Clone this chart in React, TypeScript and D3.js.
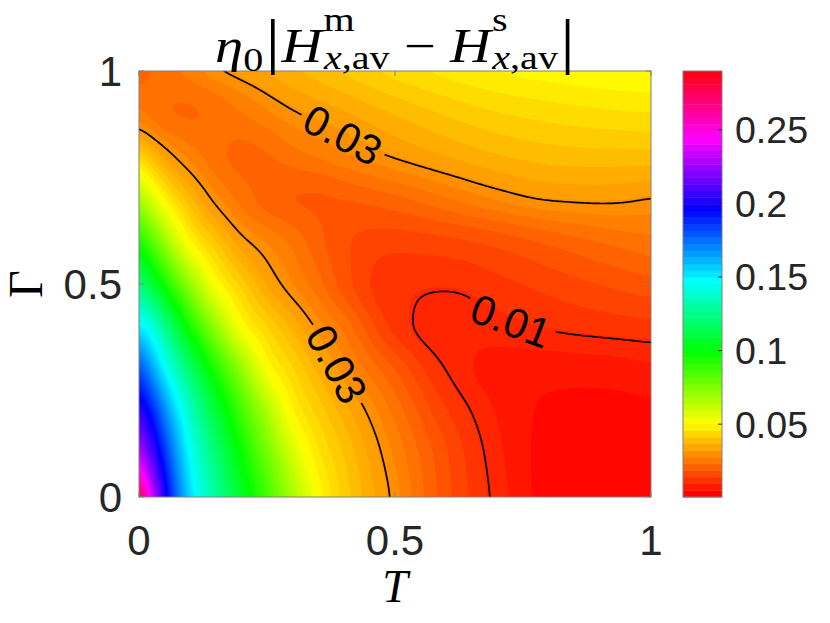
import React, { useMemo } from "react";
import * as d3 from "d3";

// ---------- data ----------
const T_GRID = [0, 0.025, 0.05, 0.1, 0.15, 0.2, 0.25, 0.3, 0.35, 0.4, 0.5, 0.6, 0.7, 0.8, 0.9, 1.0];
const GAMMA_GRID = [0, 0.1, 0.2, 0.3, 0.4, 0.5, 0.6, 0.7, 0.8, 0.9, 1.0];

const Z_G00 = [0.290, 0.236, 0.200, 0.153, 0.128, 0.106, 0.086, 0.067, 0.050, 0.041, 0.0289, 0.017, 0.0090, 0.0032, 0.0017, 0.0018];
const Z_G01 = [0.235, 0.210, 0.186, 0.145, 0.120, 0.097, 0.077, 0.058, 0.0455, 0.039, 0.027, 0.0165, 0.0082, 0.0033, 0.0018, 0.0020];
const Z_G02 = [0.208, 0.190, 0.169, 0.135, 0.109, 0.086, 0.066, 0.048, 0.041, 0.035, 0.0238, 0.0135, 0.0072, 0.0040, 0.0034, 0.0038];
const Z_G03 = [0.183, 0.165, 0.147, 0.118, 0.092, 0.071, 0.050, 0.0425, 0.0355, 0.029, 0.019, 0.0098, 0.0062, 0.0056, 0.0058, 0.0068];
const Z_G04 = [0.152, 0.141, 0.125, 0.094, 0.070, 0.050, 0.042, 0.0355, 0.029, 0.024, 0.0120, 0.0078, 0.0092, 0.0105, 0.0115, 0.0122];
const Z_G05 = [0.124, 0.109, 0.095, 0.070, 0.0500, 0.0410, 0.0330, 0.0276, 0.0230, 0.0175, 0.0108, 0.0106, 0.0123, 0.0143, 0.0162, 0.018];
const Z_G06 = [0.095, 0.0822, 0.0695, 0.048, 0.0395, 0.0312, 0.0274, 0.0240, 0.020, 0.0165, 0.0145, 0.0152, 0.017, 0.0195, 0.022, 0.024];
const Z_G07 = [0.068, 0.0568, 0.0479, 0.0370, 0.0285, 0.0235, 0.0205, 0.0188, 0.0185, 0.019, 0.021, 0.0245, 0.028, 0.0305, 0.031, 0.0298];
const Z_G08 = [0.043, 0.0378, 0.0325, 0.0265, 0.0228, 0.021, 0.0215, 0.0235, 0.025, 0.027, 0.0305, 0.0335, 0.036, 0.0375, 0.038, 0.038];
const Z_G09 = [0.026, 0.0235, 0.022, 0.0215, 0.0225, 0.0245, 0.027, 0.0295, 0.0313, 0.033, 0.0365, 0.0395, 0.0418, 0.0432, 0.0442, 0.0448];
const Z_G10 = [0.021, 0.022, 0.0235, 0.0265, 0.030, 0.032, 0.034, 0.036, 0.038, 0.040, 0.0435, 0.0462, 0.0482, 0.0495, 0.0503, 0.0508];
const Z_ROWS = [Z_G00, Z_G01, Z_G02, Z_G03, Z_G04, Z_G05, Z_G06, Z_G07, Z_G08, Z_G09, Z_G10];

const LABELED_LEVELS = [0.01, 0.03];
const CONTOUR_LABELS = [
  { level: 0.03, text: "0.03", t: 0.396, g: 0.845 },
  { level: 0.03, text: "0.03", t: 0.377, g: 0.305 },
  { level: 0.01, text: "0.01", t: 0.721, g: 0.399 },
];
const AXIS_TICKS = [0, 0.5, 1];
const AXIS_TICK_LABELS = ["0", "0.5", "1"];
const CB_TICKS = [0.05, 0.1, 0.15, 0.2, 0.25];
const CB_TICK_LABELS = ["0.05", "0.1", "0.15", "0.2", "0.25"];
const C_MIN = 0.0005;
const C_MAX = 0.29;
const N_FILL = 100;
const N_CMAP = 64;

// ---------- helpers ----------
// shape-preserving piecewise cubic (PCHIP)
function makePchip(xs: number[], ys: number[]) {
  const n = xs.length;
  const h: number[] = [];
  const d: number[] = [];
  for (let k = 0; k < n - 1; k++) {
    h[k] = xs[k + 1] - xs[k];
    d[k] = (ys[k + 1] - ys[k]) / h[k];
  }
  const m: number[] = new Array(n).fill(0);
  for (let k = 1; k < n - 1; k++) {
    if (d[k - 1] * d[k] <= 0) m[k] = 0;
    else {
      const w1 = 2 * h[k] + h[k - 1];
      const w2 = h[k] + 2 * h[k - 1];
      m[k] = (w1 + w2) / (w1 / d[k - 1] + w2 / d[k]);
    }
  }
  const endSlope = (h0: number, h1: number, d0: number, d1: number) => {
    let s = ((2 * h0 + h1) * d0 - h0 * d1) / (h0 + h1);
    if (Math.sign(s) !== Math.sign(d0)) s = 0;
    else if (Math.sign(d0) !== Math.sign(d1) && Math.abs(s) > Math.abs(3 * d0)) s = 3 * d0;
    return s;
  };
  m[0] = n > 2 ? endSlope(h[0], h[1], d[0], d[1]) : d[0];
  m[n - 1] = n > 2 ? endSlope(h[n - 2], h[n - 3], d[n - 2], d[n - 3]) : d[n - 2];
  return (x: number) => {
    if (x <= xs[0]) return ys[0];
    if (x >= xs[n - 1]) return ys[n - 1];
    let k = 0;
    while (k < n - 2 && x > xs[k + 1]) k++;
    const t = (x - xs[k]) / h[k];
    const t2 = t * t, t3 = t2 * t;
    return (
      (2 * t3 - 3 * t2 + 1) * ys[k] +
      (t3 - 2 * t2 + t) * h[k] * m[k] +
      (-2 * t3 + 3 * t2) * ys[k + 1] +
      (t3 - t2) * h[k] * m[k + 1]
    );
  };
}

const hsvColor = (v: number) => {
  const f = Math.max(0, Math.min(1, (v - C_MIN) / (C_MAX - C_MIN)));
  return d3.hsl(f * 360, 1, 0.5).formatHex();
};

// ---------- layout ----------
const W = 830, H = 623;
const PX0 = 139, PX1 = 651, PY0 = 71, PY1 = 497;
const CBX0 = 683, CBX1 = 722;

export default function App() {
  const xS = d3.scaleLinear().domain([0, 1]).range([PX0, PX1]);
  const yS = d3.scaleLinear().domain([0, 1]).range([PY1, PY0]);
  const cbS = d3.scaleLinear().domain([C_MIN, C_MAX]).range([PY1, PY0]);

  const computed = useMemo(() => {
    const NX = 257, NY = 214, P = 8;
    const fineT = d3.range(NX).map((i) => i / (NX - 1));
    const fineG = d3.range(NY).map((j) => 1 - j / (NY - 1));
    const rowsFine = Z_ROWS.map((row) => {
      const f = makePchip(T_GRID, row);
      return fineT.map((t) => f(t));
    });
    const cols: number[][] = [];
    for (let i = 0; i < NX; i++) {
      const f = makePchip(GAMMA_GRID, rowsFine.map((r) => r[i]));
      cols.push(fineG.map((g) => f(g)));
    }
    const n = NX + 2 * P, m = NY + 2 * P;
    const values = new Float64Array(n * m);
    for (let jj = 0; jj < m; jj++) {
      const j = Math.max(0, Math.min(NY - 1, jj - P));
      for (let ii = 0; ii < n; ii++) {
        const i = Math.max(0, Math.min(NX - 1, ii - P));
        values[ii + jj * n] = cols[i][j];
      }
    }
    // light smoothing of the resampled surface
    d3.blur2({ data: values as any, width: n, height: m }, 3);
    const zmin = d3.min(values) as number;
    const zmax = d3.max(values) as number;
    const levels = d3.range(1, N_FILL).map((k) => zmin + (k * (zmax - zmin)) / N_FILL);
    const gen = d3.contours().size([n, m]);
    const px = (c: number) => xS((c - 0.5 - P) / (NX - 1));
    const py = (c: number) => yS(1 - (c - 0.5 - P) / (NY - 1));
    const path = d3.geoPath(
      d3.geoTransform({
        point: function (x: number, y: number) {
          (this as any).stream.point(px(x), py(y));
        },
      })
    );
    const fills = levels.map((lv) => ({ lv, d: path(gen.contour(values as any, lv) as any) || "" }));
    const lineGeos = LABELED_LEVELS.map((lv) => ({ lv, geo: gen.contour(values as any, lv) }));
    const lines = lineGeos.map((l) => ({ lv: l.lv, d: path(l.geo as any) || "" }));

    const labels = CONTOUR_LABELS.map((lab) => {
      const geo = lineGeos.find((l) => l.lv === lab.level)!.geo as any;
      const tx = xS(lab.t), ty = yS(lab.g);
      let best = { dist: Infinity, x: tx, y: ty, ang: 0 };
      geo.coordinates.forEach((poly: any) =>
        poly.forEach((ring: any) => {
          const pts = ring.map((p: number[]) => [px(p[0]), py(p[1])]);
          const L = pts.length;
          pts.forEach((p: number[], k: number) => {
            if (p[0] < PX0 + 2 || p[0] > PX1 - 2 || p[1] < PY0 + 2 || p[1] > PY1 - 2) return;
            const dd = (p[0] - tx) ** 2 + (p[1] - ty) ** 2;
            if (dd < best.dist) {
              const a = pts[(k - 6 + L) % L], b = pts[(k + 6) % L];
              let ang = (Math.atan2(b[1] - a[1], b[0] - a[0]) * 180) / Math.PI;
              if (ang > 90) ang -= 180;
              if (ang <= -90) ang += 180;
              best = { dist: dd, x: p[0], y: p[1], ang };
            }
          });
        })
      );
      return { ...lab, x: best.x, y: best.y, ang: best.ang };
    });

    return { fills, lines, labels, baseColor: hsvColor(zmin) };
  }, []);

  const cmapBands = d3.range(N_CMAP).map((k) => ({
    lo: C_MIN + (k * (C_MAX - C_MIN)) / N_CMAP,
    hi: C_MIN + ((k + 1) * (C_MAX - C_MIN)) / N_CMAP,
    color: d3.hsl((k / N_CMAP) * 360, 1, 0.5).formatHex(),
  }));

  const sans = "'Liberation Sans', Arial, Helvetica, sans-serif";
  const serif = "'Liberation Serif', 'Times New Roman', serif";
  const tickCol = "#262626";
  const frameCol = "#808080";
  const tickFs = 42;
  const cbFs = 37.5;
  const labelW = 92, labelH = 40;

  return (
    <svg
      width={W}
      height={H}
      viewBox={`0 0 ${W} ${H}`}
      style={{ position: "absolute", left: 0, top: 0, background: "#fff" }}
    >
      <defs>
        <clipPath id="plotClip">
          <rect x={PX0} y={PY0} width={PX1 - PX0} height={PY1 - PY0} />
        </clipPath>
        <mask id="labelMask" maskUnits="userSpaceOnUse" x={0} y={0} width={W} height={H}>
          <rect x={0} y={0} width={W} height={H} fill="#fff" />
          {computed.labels.map((l, i) => (
            <rect
              key={i}
              x={-labelW / 2}
              y={-labelH / 2}
              width={labelW}
              height={labelH}
              fill="#000"
              transform={`translate(${l.x},${l.y}) rotate(${l.ang})`}
            />
          ))}
        </mask>
      </defs>

      {/* filled contours */}
      <g clipPath="url(#plotClip)">
        <rect x={PX0} y={PY0} width={PX1 - PX0} height={PY1 - PY0} fill={computed.baseColor} />
        {computed.fills.map((f, i) => (
          <path key={i} d={f.d} fill={hsvColor(f.lv)} stroke={hsvColor(f.lv)} strokeWidth={0.3} />
        ))}
        <g mask="url(#labelMask)">
          {computed.lines.map((l, i) => (
            <path key={i} d={l.d} fill="none" stroke="#000" strokeWidth={1.7} />
          ))}
        </g>
      </g>

      {/* contour labels */}
      {computed.labels.map((l, i) => (
        <text
          key={i}
          x={0}
          y={0}
          dy="0.36em"
          transform={`translate(${l.x},${l.y}) rotate(${l.ang})`}
          textAnchor="middle"
          fontFamily={sans}
          fontSize={tickFs}
          fill="#000"
        >
          {l.text}
        </text>
      ))}

      {/* axes frame and ticks */}
      <rect x={PX0} y={PY0} width={PX1 - PX0} height={PY1 - PY0} fill="none" stroke={frameCol} strokeWidth={1} />
      {AXIS_TICKS.map((t, i) => (
        <g key={i} stroke={frameCol} strokeWidth={1}>
          <line x1={xS(t)} x2={xS(t)} y1={PY1} y2={PY1 - 5} />
          <line x1={xS(t)} x2={xS(t)} y1={PY0} y2={PY0 + 5} />
          <line x1={PX0} x2={PX0 + 5} y1={yS(t)} y2={yS(t)} />
          <line x1={PX1} x2={PX1 - 5} y1={yS(t)} y2={yS(t)} />
        </g>
      ))}
      {AXIS_TICKS.map((t, i) => (
        <text key={"x" + i} x={xS(t)} y={555} textAnchor="middle" fontFamily={sans} fontSize={tickFs} fill={tickCol}>
          {AXIS_TICK_LABELS[i]}
        </text>
      ))}
      {AXIS_TICKS.map((t, i) => (
        <text key={"y" + i} x={122} y={yS(t) + 15} textAnchor="end" fontFamily={sans} fontSize={tickFs} fill={tickCol}>
          {AXIS_TICK_LABELS[i]}
        </text>
      ))}

      {/* axis labels */}
      <text x={395} y={602} textAnchor="middle" fontFamily={serif} fontStyle="italic" fontSize={46} fill="#000">
        T
      </text>
      <text transform={`translate(42,${(PY0 + PY1) / 2}) rotate(-90)`} textAnchor="middle" fontFamily={serif} fontSize={48} fill="#000">
        Γ
      </text>

      {/* title */}
      <g transform="translate(395,62) scale(1.18,1)">
        <text x={0} y={0} textAnchor="middle" fontFamily={serif} fontSize={48} fill="#000">
          <tspan fontStyle="italic">η</tspan>
          <tspan fontSize={34} dy={9}>0</tspan>
          <tspan fontSize={62} dy={-9} dx={2}>|</tspan>
          <tspan fontStyle="italic" dx={1}>H</tspan>
          <tspan fontSize={34} dy={-31} dx={1}>m</tspan>
          <tspan fontSize={34} fontStyle="italic" dy={38} dx={-26}>x</tspan>
          <tspan fontSize={34}>,av</tspan>
          <tspan dy={-7} dx={12}>−</tspan>
          <tspan fontStyle="italic" dx={12}>H</tspan>
          <tspan fontSize={34} dy={-31} dx={1}>s</tspan>
          <tspan fontSize={34} fontStyle="italic" dy={38} dx={-13}>x</tspan>
          <tspan fontSize={34}>,av</tspan>
          <tspan fontSize={62} dy={-7} dx={2}>|</tspan>
        </text>
      </g>

      {/* colorbar */}
      {cmapBands.map((b, i) => (
        <rect
          key={i}
          x={CBX0}
          y={cbS(b.hi)}
          width={CBX1 - CBX0}
          height={cbS(b.lo) - cbS(b.hi) + 0.4}
          fill={b.color}
        />
      ))}
      <rect x={CBX0} y={PY0} width={CBX1 - CBX0} height={PY1 - PY0} fill="none" stroke={frameCol} strokeWidth={1} />
      {CB_TICKS.map((v, i) => (
        <g key={i}>
          <line x1={CBX1} x2={CBX1 - 4} y1={cbS(v)} y2={cbS(v)} stroke={tickCol} strokeWidth={1} />
          <text x={735} y={cbS(v) + 13.4} fontFamily={sans} fontSize={cbFs} fill={tickCol}>
            {CB_TICK_LABELS[i]}
          </text>
        </g>
      ))}
    </svg>
  );
}
